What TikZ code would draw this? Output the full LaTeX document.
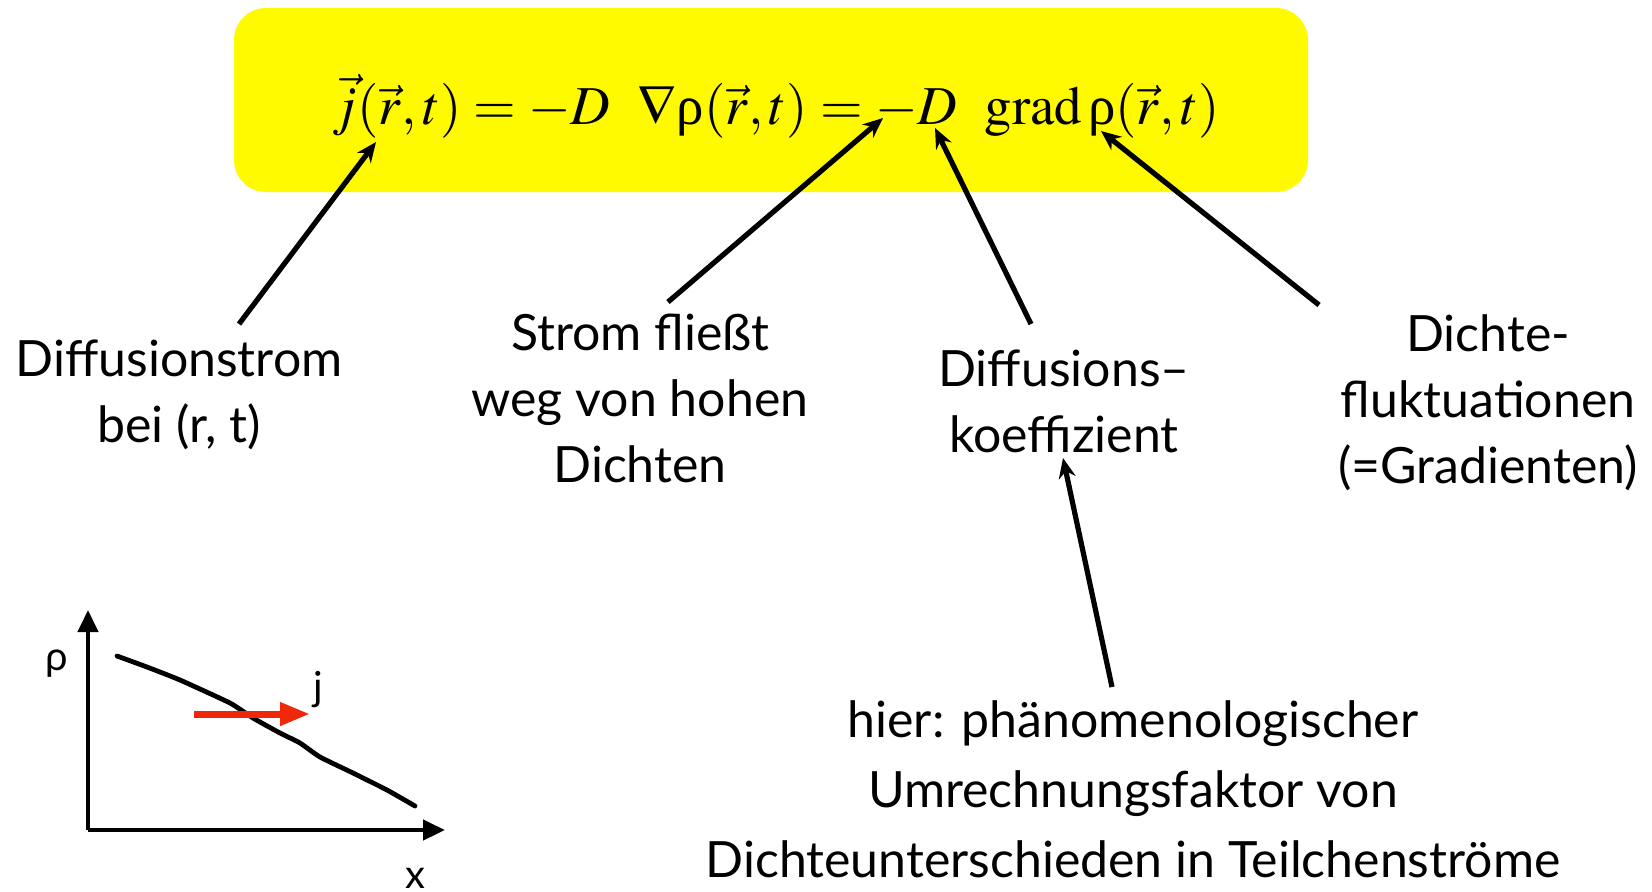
\documentclass[tikz,border=0pt]{standalone}
\usepackage{mathptmx}
\usepackage[no-math]{fontspec}
\setmainfont{Lato}
\newfontfamily\formfont{Liberation Serif}
\usetikzlibrary{arrows.meta,positioning}
\definecolor{diffYellow}{RGB}{255,250,0}
\definecolor{diffRed}{RGB}{240,40,10}
\newcommand{\rhosym}{\mbox{\formfont ρ}}

\begin{document}
\begin{tikzpicture}[
  x=0.5pt, y=-0.5pt,
  font=\fontsize{25}{33}\selectfont,
  lbl/.style={align=center, inner sep=0pt, anchor=north},
  pointer/.style={-{Stealth[length=10pt,width=8.5pt]}, line width=2.6pt},
  axis/.style={-{Triangle[length=11pt,width=10pt]}, line width=2.2pt},
  flux/.style={-{Triangle[length=15pt,width=11pt]}, line width=3.5pt, diffRed},
  eqbox/.style={rounded corners=16pt, fill=diffYellow,
    minimum width=537pt, minimum height=92pt, inner sep=0pt},
  axlabel/.style={font=\fontsize{20}{24}\selectfont, inner sep=0pt}
]
\useasboundingbox (0,0) rectangle (1652,891);

% formula
\node[eqbox] (box) at (771,100) {};
\node (eq) at (776,106) {\fontsize{27.4}{32}\selectfont
  $\vec{j}(\vec{r},t) = -D\enspace \nabla\rhosym(\vec{r},t) = -D\enspace
   \mathrm{grad}\,\rhosym(\vec{r},t)$};
\coordinate (jtip) at (376,142);
\coordinate (eqtip) at (883,118);
\coordinate (Dtip) at (935,128);
\coordinate (rhotip) at (1101,131);
\coordinate (koefftip) at (1063,458);

% labels
\node[lbl] (diffstrom) at (179,339) {Diffusionstrom\\bei (r, t)};
\node[lbl] (strom) at (640,314) {Strom fließt\\weg von hohen\\Dichten};
\node[lbl] (koeff) at (1064,349) {Diffusions–\\koeffizient};
\node[lbl] (dichte) at (1488,314) {Dichte-\\fluktuationen\\(=Gradienten)};
\node[lbl, font=\fontsize{25}{35}\selectfont] (hier) at (1133,700)
  {hier: phänomenologischer\\Umrechnungsfaktor von\\Dichteunterschieden in Teilchenströme};

\draw[pointer] ([xshift=30pt,yshift=7.5pt]diffstrom.north) -- (jtip);
\draw[pointer] ([xshift=14pt,yshift=6pt]strom.north) -- (eqtip);
\draw[pointer] ([xshift=-16.5pt,yshift=12.5pt]koeff.north) -- (Dtip);
\draw[pointer] ([xshift=-84.5pt,yshift=4.5pt]dichte.north) -- (rhotip);
\draw[pointer] ([xshift=-10.5pt,yshift=6.5pt]hier.north) -- (koefftip);

% small density plot
\coordinate (origin) at (88,830);
\coordinate (ytop) at (88,610);
\coordinate (xend) at (445,830);
\draw[axis] (origin) -- (ytop);
\draw[axis] (origin) -- (xend);
\node[axlabel] (rholbl) at (57,664) {ρ};
\node[axlabel] (xlbl) at (415,878) {x};
\draw[line width=2.4pt, line cap=round, line join=round] plot[smooth, tension=0.3] coordinates {
  (117,656) (147,667) (180,680) (230,703) (253,718)
  (280,733) (300,743) (320,757) (353,773) (387,790) (415,806)};
\coordinate (jstart) at (194,714);
\coordinate (jend) at (310,714);
\draw[flux] (jstart) -- (jend);
\node[axlabel] (jlbl) at (318,690) {j};
\end{tikzpicture}
\end{document}
